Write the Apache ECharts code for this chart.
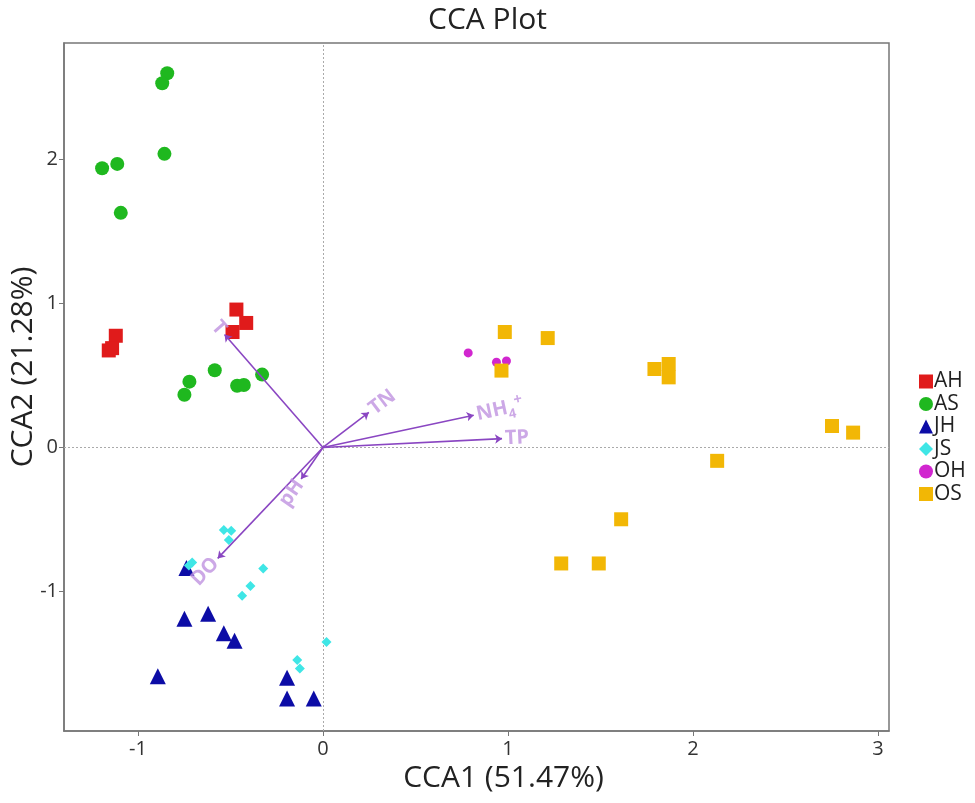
<!DOCTYPE html>
<html lang="en" style="height: 100%">
<head>
    <meta charset="UTF-8">
    <title>CCA Plot</title>
    <script src="https://cdn.jsdelivr.net/npm/echarts@6/dist/echarts.min.js"></script>
</head>
<body style="height: 100%; margin: 0">
<div id="main" style="width: 975px; height: 803px"></div>
<script>
    // sample scores, [CCA1, CCA2]
    var AH = [[-0.468, 0.958], [-0.415, 0.865], [-0.489, 0.802], [-1.12, 0.776], [-1.158, 0.674], [-1.14, 0.69]];
    var AS = [[-0.842, 2.60], [-0.869, 2.53], [-0.857, 2.04], [-1.194, 1.94], [-1.112, 1.97], [-1.093, 1.63],
              [-0.585, 0.536], [-0.722, 0.457], [-0.749, 0.366], [-0.464, 0.429], [-0.428, 0.434], [-0.329, 0.506]];
    var JH = [[-0.738, -0.837], [-0.749, -1.19], [-0.621, -1.156], [-0.536, -1.29], [-0.478, -1.343],
              [-0.893, -1.59], [-0.194, -1.60], [-0.194, -1.745], [-0.05, -1.745]];
    var JS = [[-0.536, -0.573], [-0.496, -0.578], [-0.509, -0.643], [-0.707, -0.80], [-0.725, -0.82],
              [-0.323, -0.841], [-0.392, -0.963], [-0.437, -1.03], [0.019, -1.352], [-0.139, -1.476], [-0.125, -1.536]];
    var OH = [[0.785, 0.657], [0.938, 0.592], [0.992, 0.601]];
    var OS = [[0.983, 0.802], [0.965, 0.534], [1.215, 0.760], [1.792, 0.545], [1.869, 0.58], [1.869, 0.487],
              [2.752, 0.149], [2.866, 0.103], [2.131, -0.093], [1.612, -0.499], [1.288, -0.806], [1.491, -0.806]];

    // environmental vectors
    var envNames = ['T', 'TN', 'NH4+', 'TP', 'pH', 'DO'];
    var envX = [-0.532, 0.248, 0.815, 0.968, -0.118, -0.569];
    var envY = [0.785, 0.243, 0.224, 0.061, -0.219, -0.771];

    var xTicks = [-1, 0, 1, 2, 3];
    var yTicks = [-1, 0, 1, 2];

    var groupNames = ['AH', 'AS', 'JH', 'JS', 'OH', 'OS'];
    var groupData = [AH, AS, JH, JS, OH, OS];
    var groupColors = ['#e01b1b', '#1fb81f', '#0c0ca6', '#3fe6e6', '#d126cf', '#f2b705'];
    var groupSymbols = ['rect', 'circle', 'triangle', 'diamond', 'circle', 'rect'];
    var groupSizes = [14, 14, 16, 10, 9, 14];

    var font = 'Open Sans';
    var arrowColor = '#8a46c2';
    var envLabelColor = '#bf92e0';

    var series = [];
    groupNames.forEach(function (name, i) {
        var s = {
            name: name,
            type: 'scatter',
            symbol: groupSymbols[i],
            symbolSize: groupSizes[i],
            itemStyle: {color: groupColors[i], opacity: 1},
            data: groupData[i],
            z: 3
        };
        if (i === 0) {
            s.markLine = {
                silent: true,
                symbol: 'none',
                label: {show: false},
                lineStyle: {type: [2, 2], color: '#aaaaaa', width: 1},
                data: [{xAxis: 0}, {yAxis: 0}],
                z: 1
            };
        }
        series.push(s);
    });

    var arrowData = envNames.map(function (n, i) {
        return {coords: [[0, 0], [envX[i], envY[i]]]};
    });
    series.push({
        name: 'env',
        type: 'lines',
        coordinateSystem: 'cartesian2d',
        symbol: ['none', 'arrow'],
        symbolSize: 7,
        lineStyle: {color: arrowColor, width: 1.6, opacity: 1},
        data: arrowData,
        z: 4
    });

    function envLabel(n) {
        if (n === 'NH4+') return '{a|NH}{s|4}{p|+}';
        return '{a|' + n + '}';
    }

    series.push({
        name: 'envLabel',
        type: 'scatter',
        symbolSize: 0,
        silent: true,
        data: envNames.map(function (n, i) {
            return {value: [envX[i], envY[i]], name: n};
        }),
        label: {
            show: true,
            position: 'inside',
            formatter: function (p) { return envLabel(p.name); },
            rich: {
                a: {fontSize: 20, fontWeight: 'bold', color: envLabelColor, fontFamily: font},
                s: {fontSize: 13, fontWeight: 'bold', color: envLabelColor, fontFamily: font, verticalAlign: 'bottom', padding: [10, 0, 0, 0]},
                p: {fontSize: 15, fontWeight: 'bold', color: envLabelColor, fontFamily: font, verticalAlign: 'top', padding: [0, 0, 12, 0]}
            }
        },
        z: 5
    });

    var myChart = echarts.init(document.getElementById('main'));
    var option = {
        backgroundColor: '#ffffff',
        animation: false,
        title: {
            text: 'CCA Plot',
            left: 'center',
            top: 0,
            textStyle: {fontSize: 30, fontWeight: 'normal', color: '#222', fontFamily: font}
        },
        legend: {
            orient: 'vertical',
            left: 914,
            top: 366,
            itemWidth: 14,
            itemHeight: 14,
            itemGap: 1.5,
            data: groupNames.map(function (n, i) { return {name: n, icon: groupSymbols[i]}; }),
            textStyle: {fontSize: 21, color: '#222', fontFamily: font, padding: [0, 0, 0, -4]}
        },
        grid: {
            left: 64, right: 86, top: 43, bottom: 72,
            outerBoundsMode: 'none',
            show: true, borderColor: '#777', borderWidth: 1.5
        },
        xAxis: {
            type: 'value',
            min: -1.4,
            max: 3.06,
            name: 'CCA1 (51.47%)',
            nameLocation: 'middle',
            nameGap: 32,
            nameTextStyle: {fontSize: 30, color: '#222', fontFamily: font, padding: [0, 0, 0, 54]},
            axisLine: {show: true, onZero: false, lineStyle: {color: '#777', width: 1.5}},
            axisTick: {show: true, length: 5, customValues: xTicks, lineStyle: {color: '#777'}},
            axisLabel: {customValues: xTicks, fontSize: 20, color: '#333', fontFamily: font, margin: 8},
            splitLine: {show: false}
        },
        yAxis: {
            type: 'value',
            min: -1.97,
            max: 2.81,
            name: 'CCA2 (21.28%)',
            nameLocation: 'middle',
            nameMoveOverlap: false,
            nameGap: 26,
            nameTextStyle: {fontSize: 30, color: '#222', fontFamily: font, padding: [0, 0, 0, 40]},
            axisLine: {show: true, onZero: false, lineStyle: {color: '#777', width: 1.5}},
            axisTick: {show: true, length: 5, customValues: yTicks, lineStyle: {color: '#777'}},
            axisLabel: {customValues: yTicks, fontSize: 20, color: '#333', fontFamily: font, margin: 6},
            splitLine: {show: false}
        },
        series: series
    };
    myChart.setOption(option);

    // rotate each vector label along its arrow, measured in pixels
    var o = myChart.convertToPixel({gridIndex: 0}, [0, 0]);
    var labelData = envNames.map(function (n, i) {
        var p = myChart.convertToPixel({gridIndex: 0}, [envX[i], envY[i]]);
        var ang = Math.atan2(o[1] - p[1], p[0] - o[0]) * 180 / Math.PI;
        var right = p[0] >= o[0];
        return {
            value: [envX[i], envY[i]],
            name: n,
            label: {
                rotate: right ? ang : ang - 180 * (ang > 0 ? 1 : -1),
                align: right ? 'left' : 'right',
                verticalAlign: 'middle',
                padding: right ? [0, 0, 0, 3] : [0, 3, 0, 0]
            }
        };
    });
    myChart.setOption({series: [{name: 'envLabel', data: labelData}]});
</script>
</body>
</html>
